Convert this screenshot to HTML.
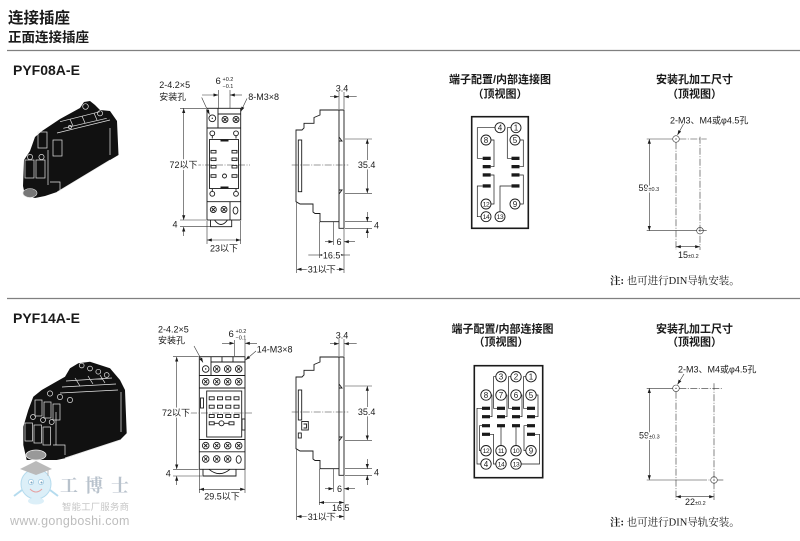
<!DOCTYPE html>
<html><head><meta charset="utf-8"><style>
html,body{margin:0;padding:0;background:#fff;}
svg{display:block;}
text{font-family:"Liberation Sans","Noto Sans CJK SC",sans-serif;fill:#1a1a1a;}
.d{font-size:9px;}
.s{font-size:5.5px;}
.h{stroke:#fff;stroke-width:3;paint-order:stroke;}
.o{fill:none;stroke:#1a1a1a;stroke-width:0.9;}
.t{fill:none;stroke:#333;stroke-width:0.6;}
.c{fill:none;stroke:#333;stroke-width:0.6;stroke-dasharray:7 1.5 1 1.5;}
.w{fill:none;stroke:#e6e6e6;stroke-width:0.7;}
.n{font-size:8px;text-anchor:middle;}
.n2{font-size:6.6px;text-anchor:middle;letter-spacing:-0.4px;}
.tt{font-size:11px;font-weight:bold;text-anchor:middle;}
.nt{font-family:"Liberation Serif","Noto Serif CJK SC",serif;font-size:10.5px;}
</style></head><body>
<svg width="800" height="541" viewBox="0 0 800 541" xmlns="http://www.w3.org/2000/svg">
<defs>
<marker id="ar" viewBox="0 0 6 4" refX="6" refY="2" markerWidth="5" markerHeight="3.2" orient="auto-start-reverse" markerUnits="userSpaceOnUse"><path d="M0,0L6,2L0,4z" fill="#1a1a1a"/></marker>
</defs>

<!-- Header -->
<text x="8" y="23" font-size="15.5" font-weight="bold">连接插座</text>
<text x="8" y="42" font-size="13.5" font-weight="bold">正面连接插座</text>
<line x1="7" y1="50.5" x2="800" y2="50.5" stroke="#808080" stroke-width="1.2"/>
<text x="13" y="75" font-size="14" font-weight="bold">PYF08A-E</text>

<!-- Photo 1 -->
<polygon points="42,131 60,119 80,108 84,102 90,101 95,105 100,110 110,111 117,121 118.5,155 110,160 57,192 45,196 35,198 25,195 23,186 24,160 30,151 35,137" fill="#111"/>
<g class="w">
<path d="M60,121.7 L100,111.7 M63.3,128.3 L106.7,118.3 M70,119 L73,126 M82,116 L85,123 M94,113 L97,120 M57,133 L110,120"/>
<circle cx="85.5" cy="106.5" r="2.8"/><circle cx="100" cy="113.3" r="2.6"/><circle cx="70" cy="127" r="1.6"/>
<rect x="38" y="132" width="9" height="16"/><rect x="53" y="140" width="9" height="16"/>
<circle cx="30" cy="157" r="2.6"/><circle cx="41.5" cy="157" r="2.6"/>
<rect x="25" y="160" width="9" height="18"/><rect x="36" y="160" width="9" height="18"/>
<path d="M48,150 V185 M50,182 H60 V191 M57,192 L110,160 M110,128 V155"/>
</g>
<ellipse cx="30" cy="193" rx="7" ry="4.5" fill="#777" stroke="#ddd" stroke-width="0.6"/>

<!-- Front view 1 -->
<g class="o">
<rect x="207" y="108.3" width="33.7" height="111.7"/>
<path d="M218,108.3 V128 M218,114 H240.7 M207,128 H240.7 M207,201.7 H240.7 M230,201.7 V220"/>
<rect x="209.5" y="139.5" width="29" height="49"/>
<path d="M210.5,220 V226.7 H231.7 V220 M214.5,220 Q221,229 227.5,220"/>
<circle cx="212.3" cy="118.3" r="3.4"/>
<g transform="translate(225,119.5)"><circle r="3"/><path d="M-1.5-1.5L1.5 1.5M-1.5 1.5L1.5-1.5"/></g>
<g transform="translate(236,119.5)"><circle r="3"/><path d="M-1.5-1.5L1.5 1.5M-1.5 1.5L1.5-1.5"/></g>
<g transform="translate(213.3,209.5)"><circle r="3"/><path d="M-1.5-1.5L1.5 1.5M-1.5 1.5L1.5-1.5"/></g>
<g transform="translate(224,209.5)"><circle r="3"/><path d="M-1.5-1.5L1.5 1.5M-1.5 1.5L1.5-1.5"/></g>
<ellipse cx="235.5" cy="210.5" rx="2.4" ry="3.6"/>
<circle cx="212.3" cy="133.3" r="2.4"/><path d="M212.3,135.7 V138.5"/>
<circle cx="236" cy="133.3" r="2.4"/><path d="M236,135.7 V138.5"/>
<circle cx="212.3" cy="193.8" r="2.4"/><path d="M212.3,191.4 V189"/>
<circle cx="236" cy="193.8" r="2.4"/><path d="M236,191.4 V189"/>
<rect x="211" y="150.4" width="5" height="2.6"/><rect x="211" y="158" width="5" height="2.6"/><rect x="211" y="165.4" width="5" height="2.6"/><rect x="211" y="174.7" width="5" height="2.6"/>
<rect x="232" y="150.4" width="5" height="2.6"/><rect x="232" y="158" width="5" height="2.6"/><rect x="232" y="165.4" width="5" height="2.6"/><rect x="232" y="174.7" width="5" height="2.6"/>
<circle cx="224.5" cy="176" r="2"/>
</g>
<rect x="220.5" y="139.5" width="8" height="2" fill="#1a1a1a"/>
<rect x="220.5" y="186.5" width="8" height="2" fill="#1a1a1a"/>
<circle cx="212.3" cy="118.3" r="0.7" fill="#1a1a1a"/>
<g class="t">
<line x1="180" y1="108.3" x2="206" y2="108.3"/>
<line x1="180" y1="220" x2="206" y2="220"/>
<line x1="180" y1="226.7" x2="210" y2="226.7"/>
<line x1="183.7" y1="108.3" x2="183.7" y2="220" marker-start="url(#ar)" marker-end="url(#ar)"/>
<line x1="183.7" y1="236" x2="183.7" y2="226.7" marker-end="url(#ar)"/>
<line x1="207" y1="221" x2="207" y2="244"/><line x1="240.7" y1="221" x2="240.7" y2="244"/>
<line x1="207" y1="240" x2="240.7" y2="240" marker-start="url(#ar)" marker-end="url(#ar)"/>
<line x1="218.3" y1="90" x2="218.3" y2="108"/><line x1="230" y1="90" x2="230" y2="108"/>
<line x1="202" y1="95" x2="218.3" y2="95" marker-end="url(#ar)"/><line x1="242" y1="95" x2="230" y2="95" marker-end="url(#ar)"/>
<line x1="201.7" y1="97.5" x2="209.5" y2="114.5" marker-end="url(#ar)"/>
<line x1="247" y1="98.5" x2="240.8" y2="111.5" marker-end="url(#ar)"/>
</g>
<line x1="194" y1="165" x2="250" y2="165" class="c"/>
<text class="d" x="159.3" y="88">2-4.2×5</text>
<text class="d" x="159.3" y="100">安装孔</text>
<text x="215.5" y="84" font-size="9.5">6</text>
<text class="s" x="222.5" y="81">+0.2</text>
<text class="s" x="222.5" y="88">−0.1</text>
<text class="d" x="248.3" y="100">8-M3×8</text>
<text class="d h" x="183.5" y="168.2" text-anchor="middle">72以下</text>
<text class="d" x="175" y="227.5" text-anchor="middle">4</text>
<text class="d" x="224" y="251.5" text-anchor="middle">23以下</text>

<!-- Side view 1 -->
<g class="o">
<path d="M339,110 H320 V115 L314,117.5 V123.3 H304 V128 L302,130 H296 V201.7 L300,204 H313 V212 L315,213.5 H320 V221.7 H339"/>
<path d="M339,110 H344 V228.3 H339 Z"/>
<path d="M339,137 L342,141 L339,141 M339,190 L342,190 L339,194"/>
<rect x="298.3" y="140" width="3.4" height="51.7"/>
</g>
<g class="t">
<line x1="339" y1="92" x2="339" y2="109"/><line x1="344" y1="92" x2="344" y2="109"/>
<line x1="330" y1="96.7" x2="339" y2="96.7" marker-end="url(#ar)"/><line x1="356.7" y1="96.7" x2="344" y2="96.7" marker-end="url(#ar)"/>
<line x1="345" y1="139" x2="372" y2="139"/><line x1="345" y1="193.3" x2="372" y2="193.3"/>
<line x1="367.3" y1="139" x2="367.3" y2="193.3" marker-start="url(#ar)" marker-end="url(#ar)"/>
<line x1="345" y1="221.7" x2="372" y2="221.7"/><line x1="345" y1="228.3" x2="372" y2="228.3"/>
<line x1="367.3" y1="212" x2="367.3" y2="221.7" marker-end="url(#ar)"/><line x1="367.3" y1="238" x2="367.3" y2="228.3" marker-end="url(#ar)"/>
<line x1="333.3" y1="222" x2="333.3" y2="245"/><line x1="344" y1="229" x2="344" y2="273"/>
<line x1="325" y1="241.7" x2="333.3" y2="241.7" marker-end="url(#ar)"/><line x1="355" y1="241.7" x2="344" y2="241.7" marker-end="url(#ar)"/>
<line x1="319.3" y1="222" x2="319.3" y2="258"/>
<line x1="308.3" y1="255" x2="319.3" y2="255"/>
<line x1="319.3" y1="255" x2="344" y2="255" marker-start="url(#ar)" marker-end="url(#ar)"/>
<line x1="344" y1="255" x2="350" y2="255"/>
<line x1="296.7" y1="202" x2="296.7" y2="273"/>
<line x1="296.7" y1="269.3" x2="344" y2="269.3" marker-start="url(#ar)" marker-end="url(#ar)"/>
</g>
<line x1="291.7" y1="165" x2="348.3" y2="165" class="c"/>
<text class="d" x="342" y="91.5" text-anchor="middle">3.4</text>
<text class="d h" x="366.7" y="168.2" text-anchor="middle">35.4</text>
<text class="d" x="376.5" y="228.5" text-anchor="middle">4</text>
<text class="d h" x="339" y="245" text-anchor="middle">6</text>
<text class="d h" x="331.7" y="258.3" text-anchor="middle">16.5</text>
<text class="d h" x="321.7" y="272.6" text-anchor="middle">31以下</text>

<!-- Terminal diagram 1 -->
<text class="tt" x="500" y="83">端子配置/内部连接图</text>
<text class="tt" x="500" y="97.5">（顶视图）</text>
<rect x="471.7" y="116.7" width="56.6" height="111.6" fill="none" stroke="#1a1a1a" stroke-width="1.6"/>
<g fill="#1a1a1a">
<rect x="482.7" y="156.7" width="8" height="3.3"/><rect x="482.7" y="165" width="8" height="3.3"/><rect x="482.7" y="173.3" width="8" height="3.3"/><rect x="482.7" y="184.3" width="8" height="3.3"/>
<rect x="511.5" y="156.7" width="8" height="3.3"/><rect x="511.5" y="165" width="8" height="3.3"/><rect x="511.5" y="173.3" width="8" height="3.3"/><rect x="511.5" y="184.3" width="8" height="3.3"/>
</g>
<g fill="none" stroke="#1a1a1a" stroke-width="0.7">
<path d="M495,127.7 H477.3 V158.3 H482.7"/>
<path d="M491,140 H494 V166.7 H490.7"/>
<path d="M511,127.7 H507.3 V158.3 H511.7"/>
<path d="M520,140 H523.3 V166.7 H519.5"/>
<path d="M491,204 H494 V175 H490.7"/>
<path d="M520,204 H523.3 V175 H519.5"/>
<path d="M481,216.7 H477.3 V186 H482.7"/>
<path d="M500,211.7 V186 H511.5"/>
<g stroke-width="0.9" fill="#fff">
<circle cx="500" cy="127.7" r="5"/><circle cx="516" cy="127.7" r="5"/>
<circle cx="486" cy="140" r="5"/><circle cx="515" cy="140" r="5"/>
<circle cx="486" cy="204" r="5"/><circle cx="515" cy="204" r="5"/>
<circle cx="486" cy="216.7" r="5"/><circle cx="500" cy="216.7" r="5"/>
</g>
</g>
<text class="n" x="500" y="130.6">4</text><text class="n" x="516" y="130.6">1</text>
<text class="n" x="486" y="142.9">8</text><text class="n" x="515" y="142.9">5</text>
<text class="n2" x="486" y="206.4">12</text><text class="n" x="515" y="206.9">9</text>
<text class="n2" x="486" y="219.1">14</text><text class="n2" x="500" y="219.1">13</text>

<!-- Mounting 1 -->
<text class="tt" x="694.5" y="83">安装孔加工尺寸</text>
<text class="tt" x="694.5" y="97.5">（顶视图）</text>
<text class="d" x="670" y="123.3">2-M3、M4或φ4.5孔</text>
<g class="t">
<line x1="683.5" y1="124" x2="677.5" y2="135" marker-end="url(#ar)"/>
<line x1="646.7" y1="139" x2="672.7" y2="139"/>
<line x1="646.7" y1="230.7" x2="690" y2="230.7"/>
<line x1="649.3" y1="139" x2="649.3" y2="230.7" marker-start="url(#ar)" marker-end="url(#ar)"/>
<line x1="676" y1="246.7" x2="700" y2="246.7" marker-start="url(#ar)" marker-end="url(#ar)"/>
<circle cx="676" cy="139" r="3.3"/><circle cx="700" cy="230.7" r="3.3"/>
</g>
<line x1="679.3" y1="139" x2="706.7" y2="139" class="c"/>
<line x1="690" y1="230.7" x2="706.7" y2="230.7" class="c"/>
<line x1="676" y1="142.3" x2="676" y2="250" class="c"/>
<line x1="700" y1="136.7" x2="700" y2="250" class="c"/>
<circle cx="676" cy="139" r="0.6" fill="#1a1a1a"/><circle cx="700" cy="230.7" r="0.6" fill="#1a1a1a"/>
<text class="d h" x="638.5" y="191">59<tspan class="s">±0.3</tspan></text>
<text class="d" x="678" y="258">15<tspan class="s">±0.2</tspan></text>
<text class="nt" x="610" y="284"><tspan font-weight="bold">注</tspan><tspan font-weight="bold">:</tspan> 也可进行DIN导轨安装。</text>

<line x1="7" y1="298.5" x2="800" y2="298.5" stroke="#808080" stroke-width="1.2"/>

<!-- Section 2 -->
<text x="13" y="323" font-size="14" font-weight="bold">PYF14A-E</text>

<!-- Photo 2 -->
<polygon points="70,368.3 78.3,363.3 90,361.7 110,368.3 120,380 125,390 126.7,433.3 120,440 65,458.3 56.7,460 26.7,460 23.3,445 23.3,426.7 28.3,410 33.3,396.7 41.7,390 65,376.7" fill="#111"/>
<g class="w">
<circle cx="81.7" cy="365.5" r="2.4"/><circle cx="90" cy="368.5" r="2.4"/><circle cx="98.3" cy="371.7" r="2.4"/><circle cx="106.7" cy="375" r="2.4"/>
<path d="M66,381 L112,378 M62,387 L116,384 M60,393 L118,390 M75,378 L80,386 M88,376 L93,384 M100,375 L105,383 M121,392 V432"/>
<circle cx="50" cy="393.5" r="2.6"/><circle cx="60" cy="397" r="2.6"/><circle cx="70" cy="400" r="2.6"/>
<rect x="35" y="400" width="7" height="16"/><rect x="44" y="402" width="7" height="16"/><rect x="53" y="404" width="7" height="16"/>
<circle cx="33" cy="417" r="2.5"/><circle cx="43" cy="420" r="2.5"/><circle cx="51.7" cy="422" r="2.5"/>
<rect x="25" y="423" width="7.5" height="18"/><rect x="34" y="425" width="7.5" height="18"/><rect x="43" y="427" width="7.5" height="18"/>
<path d="M56,412 V445 M53,445 H65 V455 M65,458 L120,440"/>
</g>
<ellipse cx="36" cy="455" rx="10" ry="5" fill="#999" stroke="#eee" stroke-width="0.8"/>

<!-- Front view 2 -->
<g class="o">
<rect x="199.3" y="356.7" width="45.7" height="112.6"/>
<path d="M211,356.7 V375.5 M211,362 H245 M222,356.7 V362 M233,356.7 V362 M199.3,375.5 H245 M199.3,388 H245 M199.3,439.5 H245 M199.3,451.8 H245"/>
<rect x="206.7" y="391" width="35" height="46"/>
<rect x="200.5" y="398" width="3" height="10"/><rect x="242" y="419" width="3" height="11"/>
<path d="M203,469.3 V476 H236 V469.3 M209,469.3 Q219.5,478 230,469.3"/>
<circle cx="205.7" cy="369" r="3.3"/>
<g transform="translate(216.7,369)"><circle r="3.3"/><path d="M-1.6-1.6L1.6 1.6M-1.6 1.6L1.6-1.6"/></g>
<g transform="translate(227.7,369)"><circle r="3.3"/><path d="M-1.6-1.6L1.6 1.6M-1.6 1.6L1.6-1.6"/></g>
<g transform="translate(238.7,369)"><circle r="3.3"/><path d="M-1.6-1.6L1.6 1.6M-1.6 1.6L1.6-1.6"/></g>
<g transform="translate(205.7,381.7)"><circle r="3.3"/><path d="M-1.6-1.6L1.6 1.6M-1.6 1.6L1.6-1.6"/></g>
<g transform="translate(216.7,381.7)"><circle r="3.3"/><path d="M-1.6-1.6L1.6 1.6M-1.6 1.6L1.6-1.6"/></g>
<g transform="translate(227.7,381.7)"><circle r="3.3"/><path d="M-1.6-1.6L1.6 1.6M-1.6 1.6L1.6-1.6"/></g>
<g transform="translate(238.7,381.7)"><circle r="3.3"/><path d="M-1.6-1.6L1.6 1.6M-1.6 1.6L1.6-1.6"/></g>
<g transform="translate(205.7,445.6)"><circle r="3.3"/><path d="M-1.6-1.6L1.6 1.6M-1.6 1.6L1.6-1.6"/></g>
<g transform="translate(216.7,445.6)"><circle r="3.3"/><path d="M-1.6-1.6L1.6 1.6M-1.6 1.6L1.6-1.6"/></g>
<g transform="translate(227.7,445.6)"><circle r="3.3"/><path d="M-1.6-1.6L1.6 1.6M-1.6 1.6L1.6-1.6"/></g>
<g transform="translate(238.7,445.6)"><circle r="3.3"/><path d="M-1.6-1.6L1.6 1.6M-1.6 1.6L1.6-1.6"/></g>
<g transform="translate(205.7,459)"><circle r="3.3"/><path d="M-1.6-1.6L1.6 1.6M-1.6 1.6L1.6-1.6"/></g>
<g transform="translate(216.7,459)"><circle r="3.3"/><path d="M-1.6-1.6L1.6 1.6M-1.6 1.6L1.6-1.6"/></g>
<g transform="translate(227.7,459)"><circle r="3.3"/><path d="M-1.6-1.6L1.6 1.6M-1.6 1.6L1.6-1.6"/></g>
<ellipse cx="238.7" cy="459.5" rx="2.5" ry="3.8"/>
<rect x="209.2" y="396.8" width="5" height="3"/><rect x="217.5" y="396.8" width="5" height="3"/><rect x="225.8" y="396.8" width="5" height="3"/><rect x="234" y="396.8" width="5" height="3"/>
<rect x="209.2" y="405.2" width="5" height="3"/><rect x="217.5" y="405.2" width="5" height="3"/><rect x="225.8" y="405.2" width="5" height="3"/><rect x="234" y="405.2" width="5" height="3"/>
<rect x="209.2" y="414.5" width="5" height="3"/><rect x="217.5" y="414.5" width="5" height="3"/><rect x="225.8" y="414.5" width="5" height="3"/><rect x="234" y="414.5" width="5" height="3"/>
<rect x="209.2" y="421.8" width="5" height="3"/><rect x="229" y="421.8" width="5" height="3"/>
<circle cx="221.5" cy="423.3" r="2.5"/>
<path d="M214.2,423.3 H219 M224,423.3 H229"/>
</g>
<circle cx="205.7" cy="369" r="0.7" fill="#1a1a1a"/>
<g class="t">
<line x1="173" y1="356.7" x2="198.5" y2="356.7"/>
<line x1="173" y1="469.3" x2="198.5" y2="469.3"/>
<line x1="173" y1="476" x2="202" y2="476"/>
<line x1="176.7" y1="356.7" x2="176.7" y2="469.3" marker-start="url(#ar)" marker-end="url(#ar)"/>
<line x1="176.7" y1="485" x2="176.7" y2="476" marker-end="url(#ar)"/>
<line x1="199.3" y1="470" x2="199.3" y2="493"/><line x1="245" y1="470" x2="245" y2="493"/>
<line x1="199.3" y1="489.3" x2="245" y2="489.3" marker-start="url(#ar)" marker-end="url(#ar)"/>
<line x1="234.3" y1="340" x2="234.3" y2="356"/><line x1="245" y1="340" x2="245" y2="356"/>
<line x1="222" y1="343.3" x2="234.3" y2="343.3" marker-end="url(#ar)"/><line x1="257" y1="343.3" x2="245" y2="343.3" marker-end="url(#ar)"/>
<line x1="194" y1="346" x2="203" y2="362.5" marker-end="url(#ar)"/>
<line x1="256" y1="351" x2="245.5" y2="360" marker-end="url(#ar)"/>
</g>
<line x1="190" y1="413" x2="252" y2="413" class="c"/>
<text class="d" x="158" y="332.5">2-4.2×5</text>
<text class="d" x="158" y="343.5">安装孔</text>
<text x="228.5" y="337" font-size="9.5">6</text>
<text class="s" x="235.5" y="333">+0.2</text>
<text class="s" x="235.5" y="339.5">−0.1</text>
<text class="d" x="256.7" y="352.5">14-M3×8</text>
<text class="d h" x="176" y="416.2" text-anchor="middle">72以下</text>
<text class="d" x="168.3" y="476.5" text-anchor="middle">4</text>
<text class="d" x="222" y="499.5" text-anchor="middle">29.5以下</text>

<!-- Side view 2 -->
<g transform="translate(0,247)">
<g class="o">
<path d="M339,110 H320 V115 L314,117.5 V123.3 H304 V128 L302,130 H296 V201.7 L300,204 H313 V212 L315,213.5 H320 V221.7 H339"/>
<path d="M339,110 H344 V228.3 H339 Z"/>
<path d="M339,137 L342,141 L339,141 M339,190 L342,190 L339,194"/>
<rect x="298.3" y="143" width="3.4" height="30"/>
<rect x="301.7" y="174.5" width="6.6" height="8.5"/>
<path d="M303.5,177 H306.5 V181 H303.5"/>
<rect x="298.3" y="186" width="3" height="5"/>
</g>
<g class="t">
<line x1="339" y1="92" x2="339" y2="109"/><line x1="344" y1="92" x2="344" y2="109"/>
<line x1="330" y1="96.7" x2="339" y2="96.7" marker-end="url(#ar)"/><line x1="356.7" y1="96.7" x2="344" y2="96.7" marker-end="url(#ar)"/>
<line x1="345" y1="139" x2="372" y2="139"/><line x1="345" y1="193.3" x2="372" y2="193.3"/>
<line x1="367.3" y1="139" x2="367.3" y2="193.3" marker-start="url(#ar)" marker-end="url(#ar)"/>
<line x1="345" y1="221.7" x2="372" y2="221.7"/><line x1="345" y1="228.3" x2="372" y2="228.3"/>
<line x1="367.3" y1="212" x2="367.3" y2="221.7" marker-end="url(#ar)"/><line x1="367.3" y1="238" x2="367.3" y2="228.3" marker-end="url(#ar)"/>
<line x1="333.3" y1="222" x2="333.3" y2="245"/><line x1="344" y1="229" x2="344" y2="273"/>
<line x1="325" y1="241.7" x2="333.3" y2="241.7" marker-end="url(#ar)"/><line x1="355" y1="241.7" x2="344" y2="241.7" marker-end="url(#ar)"/>
<line x1="319.3" y1="222" x2="319.3" y2="258"/>
<line x1="319.3" y1="255.5" x2="344" y2="255.5" marker-start="url(#ar)" marker-end="url(#ar)"/>
<line x1="296.7" y1="202" x2="296.7" y2="273"/>
<line x1="296.7" y1="269.5" x2="344" y2="269.5" marker-start="url(#ar)" marker-end="url(#ar)"/>
</g>
<line x1="291.7" y1="165" x2="348.3" y2="165" class="c"/>
<text class="d" x="342" y="91.5" text-anchor="middle">3.4</text>
<text class="d h" x="366.7" y="168.2" text-anchor="middle">35.4</text>
<text class="d" x="376.5" y="228.5" text-anchor="middle">4</text>
<text class="d h" x="339.5" y="245" text-anchor="middle">6</text>
<text class="d" x="332" y="264">16.5</text>
<text class="d h" x="321.7" y="272.8" text-anchor="middle">31以下</text>
</g>

<!-- Terminal diagram 2 -->
<text class="tt" x="502.5" y="332.5">端子配置/内部连接图</text>
<text class="tt" x="501" y="345.5">（顶视图）</text>
<rect x="474.3" y="365.7" width="68.4" height="112" fill="none" stroke="#1a1a1a" stroke-width="1.6"/>
<g fill="#1a1a1a">
<rect x="482" y="406.7" width="8" height="3.2"/><rect x="497" y="406.7" width="8" height="3.2"/><rect x="512" y="406.7" width="8" height="3.2"/><rect x="527" y="406.7" width="8" height="3.2"/>
<rect x="482" y="415.1" width="8" height="3.2"/><rect x="497" y="415.1" width="8" height="3.2"/><rect x="512" y="415.1" width="8" height="3.2"/><rect x="527" y="415.1" width="8" height="3.2"/>
<rect x="482" y="424.1" width="8" height="3.2"/><rect x="497" y="424.1" width="8" height="3.2"/><rect x="512" y="424.1" width="8" height="3.2"/><rect x="527" y="424.1" width="8" height="3.2"/>
<rect x="482" y="432.7" width="8" height="3.2"/><rect x="527" y="432.7" width="8" height="3.2"/>
</g>
<g fill="none" stroke="#1a1a1a" stroke-width="0.7">
<path d="M495.8,376.7 H493.5 V408.3 H497"/>
<path d="M510.8,376.7 H508.5 V408.3 H512"/>
<path d="M525.8,376.7 H523.5 V408.3 H527"/>
<path d="M491.2,395 H492 V416.7 H490"/>
<path d="M506.2,395 H507 V416.7 H505"/>
<path d="M521.2,395 H522 V416.7 H520"/>
<path d="M536.2,395 H538 V416.7 H535"/>
<path d="M482,408.3 H477 V464 H480.8"/>
<path d="M482,425.7 H479.5 V450.7 H480.8"/>
<path d="M501,427.3 V445.5 M516,427.3 V445.5"/>
<path d="M527,425.7 H524 V450.7 H525.8"/>
<path d="M490,434.3 H493.5 V464 H495.8"/>
<path d="M535,434.3 H539.5 V464 H521.2"/>
<g stroke-width="0.9" fill="#fff">
<circle cx="501" cy="376.7" r="5.2"/><circle cx="516" cy="376.7" r="5.2"/><circle cx="531" cy="376.7" r="5.2"/>
<circle cx="486" cy="395" r="5.2"/><circle cx="501" cy="395" r="5.2"/><circle cx="516" cy="395" r="5.2"/><circle cx="531" cy="395" r="5.2"/>
<circle cx="486" cy="450.7" r="5.2"/><circle cx="501" cy="450.7" r="5.2"/><circle cx="516" cy="450.7" r="5.2"/><circle cx="531" cy="450.7" r="5.2"/>
<circle cx="486" cy="464" r="5.2"/><circle cx="501" cy="464" r="5.2"/><circle cx="516" cy="464" r="5.2"/>
</g>
</g>
<text class="n" x="501" y="379.6">3</text><text class="n" x="516" y="379.6">2</text><text class="n" x="531" y="379.6">1</text>
<text class="n" x="486" y="397.9">8</text><text class="n" x="501" y="397.9">7</text><text class="n" x="516" y="397.9">6</text><text class="n" x="531" y="397.9">5</text>
<text class="n2" x="486" y="453.1">12</text><text class="n2" x="501" y="453.1">11</text><text class="n2" x="516" y="453.1">10</text><text class="n" x="531" y="453.6">9</text>
<text class="n" x="486" y="466.9">4</text><text class="n2" x="501" y="466.4">14</text><text class="n2" x="516" y="466.4">13</text>

<!-- Mounting 2 -->
<text class="tt" x="694.5" y="332.5">安装孔加工尺寸</text>
<text class="tt" x="694.5" y="345.5">（顶视图）</text>
<text class="d" x="678" y="372.5">2-M3、M4或φ4.5孔</text>
<g class="t">
<line x1="684" y1="374" x2="677.5" y2="384.5" marker-end="url(#ar)"/>
<line x1="646.7" y1="388.3" x2="672.7" y2="388.3"/>
<line x1="646.7" y1="480" x2="700" y2="480"/>
<line x1="649.3" y1="388.3" x2="649.3" y2="480" marker-start="url(#ar)" marker-end="url(#ar)"/>
<line x1="676" y1="496.7" x2="714" y2="496.7" marker-start="url(#ar)" marker-end="url(#ar)"/>
<circle cx="676" cy="388.3" r="3.3"/><circle cx="714" cy="480" r="3.3"/>
</g>
<line x1="679.3" y1="388.3" x2="723.3" y2="388.3" class="c"/>
<line x1="700" y1="480" x2="710.7" y2="480" class="c"/>
<line x1="717.3" y1="480" x2="723.3" y2="480" class="t"/>
<line x1="676" y1="391.6" x2="676" y2="500" class="c"/>
<line x1="714" y1="383.3" x2="714" y2="500" class="c"/>
<circle cx="676" cy="388.3" r="0.6" fill="#1a1a1a"/><circle cx="714" cy="480" r="0.6" fill="#1a1a1a"/>
<text class="d h" x="639" y="438.3">59<tspan class="s">±0.3</tspan></text>
<text class="d" x="685" y="505">22<tspan class="s">±0.2</tspan></text>
<text class="nt" x="610" y="525.5"><tspan font-weight="bold">注</tspan><tspan font-weight="bold">:</tspan> 也可进行DIN导轨安装。</text>

<!-- Watermark -->
<g opacity="0.8">
<circle cx="36" cy="484" r="15" fill="#d4ecf7" stroke="#a3d3ea" stroke-width="1"/>
<path d="M20,469 L36,461 L52,469 L36,475Z" fill="#aaa"/>
<path d="M48,469 V476" stroke="#aaa" stroke-width="1"/>
<circle cx="31" cy="482" r="2.6" fill="#fff" stroke="#7fbadb" stroke-width="0.7"/>
<circle cx="41" cy="482" r="2.6" fill="#fff" stroke="#7fbadb" stroke-width="0.7"/>
<circle cx="31.5" cy="482.5" r="1" fill="#5a8fb0"/><circle cx="41.5" cy="482.5" r="1" fill="#5a8fb0"/>
<path d="M30,489 Q36,495 42,489" fill="none" stroke="#e08a8a" stroke-width="1"/>
<path d="M22,490 L14,496 M50,490 L58,496" stroke="#a3d3ea" stroke-width="2"/>
<ellipse cx="36" cy="501" rx="8" ry="3.5" fill="#d4ecf7"/>
</g>
<text x="60" y="492" font-size="18" font-weight="bold" style="fill:#b8c2cc;font-family:'Liberation Serif','Noto Serif CJK SC',serif">工</text>
<text x="85" y="492" font-size="18" font-weight="bold" style="fill:#b8c2cc;font-family:'Liberation Serif','Noto Serif CJK SC',serif">博</text>
<text x="111" y="492" font-size="18" font-weight="bold" style="fill:#b8c2cc;font-family:'Liberation Serif','Noto Serif CJK SC',serif">士</text>
<text x="62" y="510" font-size="9.3" letter-spacing="0.3" style="fill:#c6c6c6">智能工厂服务商</text>
<text x="10" y="525" font-size="12.5" letter-spacing="0.3" style="fill:#bdbdbd">www.gongboshi.com</text>
</svg>
</body></html>
